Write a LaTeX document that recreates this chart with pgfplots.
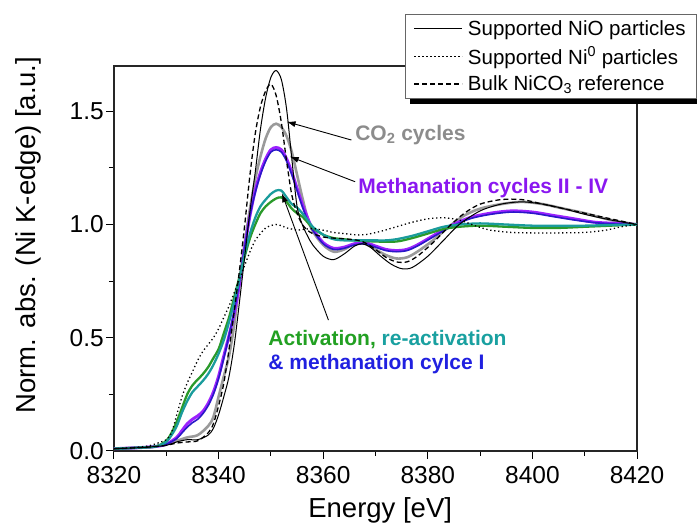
\documentclass[border=0pt]{standalone}
\usepackage{pgfplots}
\pgfplotsset{compat=1.18}
\usepackage{fontspec}
\setmainfont{Liberation Sans}
\usetikzlibrary{arrows.meta}
\definecolor{cgray}{HTML}{9A9A9A}
\definecolor{tgray}{HTML}{8C8C8C}
\definecolor{cpurple}{HTML}{9B22FF}
\definecolor{tpurple}{HTML}{8A17F0}
\definecolor{cblue}{HTML}{2A18C8}
\definecolor{tblue}{HTML}{2020E0}
\definecolor{cteal}{HTML}{1A9C9C}
\definecolor{tteal}{HTML}{19A0A0}
\definecolor{cgreen}{HTML}{2A9A2A}
\definecolor{tgreen}{HTML}{22A022}
\begin{document}
\begin{tikzpicture}
\begin{axis}[
  scale only axis, width=523pt, height=385pt,
  xmin=8320, xmax=8420, ymin=0, ymax=1.70,
  xtick={8320,8340,8360,8380,8400,8420}, ytick={0,0.5,1,1.5},
  minor x tick num=1, minor y tick num=1,
  xtick pos=bottom, ytick pos=left, tick align=outside,
  major tick length=8pt, minor tick length=5pt,
  every tick/.style={black, line width=1pt},
  axis line style={line width=1.3pt, black!85},
  /pgf/number format/assume math mode=true,
  xticklabel style={/pgf/number format/1000 sep={}, yshift=-5pt},
  yticklabel style={/pgf/number format/fixed, /pgf/number format/fixed zerofill, /pgf/number format/precision=1},
  tick label style={font=\fontsize{24.5}{30}\selectfont, inner sep=2pt},
  xlabel={Energy [eV]},
  ylabel={Norm. abs. (Ni K-edge) [a.u.]},
  label style={font=\fontsize{27.5}{33}\selectfont},
  xlabel style={at={(axis description cs:0.509,0)}, anchor=base, yshift=-67pt},
  ylabel style={at={([xshift=-86pt]axis description cs:0,0.561)}, anchor=center},
  legend style={at={(axis description cs:1.1147,1.135)}, anchor=north east, name=leg,
    draw=black!60, line width=0.8pt, fill=white,
    font=\fontsize{20.5}{24}\selectfont, inner xsep=8pt, inner ysep=3pt,
    row sep=4pt, column sep=2pt,
    nodes={inner sep=3pt}},
  legend cell align=left,
  legend image code/.code={\draw[#1] (0pt,0pt) -- (48pt,0pt);},
  every axis plot/.append style={smooth, tension=0.5},
]
% CO2 cycles (gray)
\addplot[cgray, line width=2.6pt, forget plot] coordinates {
(8320,0.01)(8325,0.015)(8328,0.02)(8330,0.03)(8332,0.045)(8334,0.06)(8336,0.07)(8338,0.11)(8339,0.15)(8340,0.24)(8341,0.33)(8342,0.42)(8343,0.56)(8344,0.75)(8345,0.92)(8346,1.07)(8347,1.20)(8348,1.30)(8349,1.38)(8350,1.43)(8351,1.445)(8352,1.43)(8353,1.39)(8354,1.32)(8355,1.22)(8356,1.12)(8357,1.03)(8358,0.97)(8360,0.91)(8362,0.88)(8364,0.89)(8366,0.915)(8368,0.915)(8370,0.89)(8372,0.865)(8374,0.85)(8376,0.855)(8378,0.88)(8381,0.93)(8384,0.99)(8387,1.04)(8390,1.07)(8394,1.09)(8398,1.10)(8402,1.09)(8406,1.07)(8410,1.05)(8415,1.02)(8420,1.0)};
% Methanation II-IV (purple)
\addplot[cpurple, line width=3pt, forget plot] coordinates {
(8320,0.01)(8325,0.015)(8328,0.02)(8330,0.03)(8332,0.06)(8333,0.09)(8334,0.12)(8335,0.14)(8336,0.155)(8337,0.175)(8338,0.21)(8339,0.26)(8340,0.33)(8341,0.42)(8342,0.51)(8343,0.61)(8344,0.74)(8345,0.90)(8346,1.04)(8347,1.15)(8348,1.23)(8349,1.29)(8350,1.33)(8351,1.34)(8352,1.33)(8353,1.29)(8354,1.23)(8355,1.16)(8356,1.09)(8357,1.03)(8358,0.98)(8360,0.92)(8362,0.895)(8364,0.90)(8366,0.915)(8368,0.92)(8370,0.905)(8372,0.89)(8374,0.885)(8376,0.89)(8378,0.91)(8381,0.95)(8384,0.99)(8388,1.03)(8392,1.05)(8396,1.06)(8400,1.055)(8404,1.04)(8408,1.025)(8412,1.01)(8416,1.005)(8420,1.0)};
% blue
\addplot[cblue, line width=1.6pt, forget plot] coordinates {
(8320,0.01)(8325,0.015)(8328,0.02)(8330,0.03)(8332,0.055)(8333,0.08)(8334,0.105)(8335,0.125)(8336,0.14)(8337,0.165)(8338,0.20)(8339,0.25)(8340,0.32)(8341,0.41)(8342,0.51)(8343,0.62)(8344,0.75)(8345,0.90)(8346,1.04)(8347,1.14)(8348,1.22)(8349,1.28)(8350,1.32)(8351,1.33)(8352,1.32)(8353,1.28)(8354,1.22)(8355,1.15)(8356,1.08)(8357,1.02)(8358,0.975)(8360,0.915)(8362,0.89)(8364,0.895)(8366,0.91)(8368,0.915)(8370,0.90)(8372,0.885)(8374,0.88)(8376,0.885)(8378,0.905)(8381,0.945)(8384,0.985)(8388,1.025)(8392,1.045)(8396,1.055)(8400,1.05)(8404,1.035)(8408,1.02)(8412,1.008)(8416,1.003)(8420,1.0)};
% green (activation)
\addplot[cgreen, line width=2.3pt, forget plot] coordinates {
(8320,0.01)(8325,0.015)(8328,0.02)(8330,0.045)(8331,0.08)(8332,0.13)(8333,0.19)(8334,0.25)(8335,0.29)(8336,0.315)(8337,0.34)(8338,0.37)(8339,0.41)(8340,0.45)(8341,0.52)(8342,0.59)(8343,0.68)(8344,0.77)(8345,0.86)(8346,0.94)(8347,1.00)(8348,1.05)(8349,1.08)(8350,1.10)(8351,1.115)(8352,1.12)(8353,1.10)(8354,1.07)(8355,1.05)(8356,1.035)(8357,1.01)(8358,0.985)(8360,0.955)(8362,0.94)(8364,0.935)(8366,0.93)(8370,0.925)(8374,0.925)(8377,0.94)(8380,0.96)(8383,0.98)(8386,0.99)(8390,0.995)(8395,0.99)(8400,0.985)(8405,0.985)(8410,0.99)(8415,0.995)(8420,1.0)};
% teal (re-activation)
\addplot[cteal, line width=2.3pt, forget plot] coordinates {
(8320,0.01)(8325,0.015)(8328,0.02)(8330,0.04)(8331,0.07)(8332,0.11)(8333,0.17)(8334,0.22)(8335,0.26)(8336,0.285)(8337,0.31)(8338,0.34)(8339,0.38)(8340,0.43)(8341,0.49)(8342,0.57)(8343,0.66)(8344,0.76)(8345,0.87)(8346,0.96)(8347,1.03)(8348,1.08)(8349,1.11)(8350,1.135)(8351,1.15)(8352,1.15)(8353,1.12)(8354,1.09)(8355,1.075)(8356,1.05)(8357,1.02)(8358,0.99)(8360,0.955)(8362,0.935)(8364,0.93)(8366,0.93)(8368,0.93)(8370,0.93)(8372,0.93)(8374,0.935)(8377,0.95)(8380,0.97)(8383,0.99)(8386,1.0)(8390,1.005)(8395,1.0)(8400,0.995)(8405,0.995)(8410,0.995)(8415,0.998)(8420,1.0)};
% Supported NiO (thin black)
\addplot[black, line width=1pt] coordinates {
(8320,0.01)(8325,0.015)(8328,0.02)(8330,0.025)(8332,0.04)(8334,0.05)(8336,0.05)(8338,0.07)(8339,0.10)(8340,0.16)(8341,0.24)(8342,0.33)(8343,0.47)(8344,0.66)(8345,0.86)(8346,1.06)(8347,1.23)(8348,1.42)(8349,1.56)(8350,1.65)(8351,1.68)(8352,1.64)(8353,1.51)(8354,1.29)(8355,1.08)(8356,1.00)(8357,0.95)(8358,0.91)(8360,0.86)(8362,0.845)(8364,0.87)(8366,0.905)(8367.5,0.915)(8369,0.90)(8371,0.86)(8373,0.825)(8375,0.805)(8377,0.81)(8380,0.86)(8383,0.93)(8386,1.00)(8390,1.06)(8394,1.09)(8398,1.10)(8402,1.09)(8406,1.07)(8410,1.045)(8415,1.02)(8420,1.0)};
\addlegendentry{Supported NiO particles}
% Supported Ni0 (dotted)
\addplot[black, line width=1.3pt, dash pattern=on 1.3pt off 2.7pt] coordinates {
(8320,0.01)(8326,0.02)(8329,0.04)(8330,0.05)(8331,0.08)(8332,0.16)(8333,0.24)(8334,0.30)(8335,0.35)(8336,0.40)(8337,0.44)(8338,0.47)(8339,0.50)(8340,0.54)(8341,0.59)(8342,0.64)(8343,0.70)(8344,0.76)(8345,0.82)(8346,0.88)(8347,0.93)(8348,0.96)(8349,0.985)(8350,0.995)(8351,1.0)(8352,0.995)(8353,0.985)(8354,0.98)(8355,0.975)(8356,0.978)(8358,0.982)(8360,0.975)(8362,0.965)(8364,0.96)(8366,0.955)(8368,0.955)(8371,0.97)(8374,0.99)(8377,1.01)(8380,1.025)(8383,1.03)(8386,1.02)(8389,0.995)(8392,0.975)(8396,0.965)(8400,0.963)(8405,0.963)(8410,0.965)(8414,0.975)(8417,0.99)(8420,1.0)};
\addlegendentry{Supported Ni\textsuperscript{0} particles}
% Bulk NiCO3 (dashed)
\addplot[black, line width=1.3pt, dash pattern=on 5pt off 3pt] coordinates {
(8320,0.01)(8325,0.015)(8328,0.02)(8330,0.025)(8332,0.035)(8334,0.04)(8336,0.045)(8338,0.08)(8339,0.12)(8340,0.20)(8341,0.30)(8342,0.45)(8343,0.62)(8344,0.80)(8345,1.00)(8346,1.22)(8347,1.40)(8348,1.52)(8349,1.59)(8350,1.62)(8351,1.57)(8352,1.45)(8353,1.28)(8354,1.13)(8355,1.05)(8356,1.00)(8357,0.975)(8358,0.96)(8360,0.945)(8362,0.94)(8365,0.935)(8367.5,0.925)(8370,0.89)(8372,0.855)(8374,0.835)(8376,0.835)(8378,0.86)(8381,0.92)(8384,0.99)(8387,1.05)(8390,1.09)(8394,1.11)(8398,1.11)(8402,1.09)(8406,1.07)(8410,1.05)(8415,1.025)(8420,1.0)};
\addlegendentry{Bulk NiCO\textsubscript{3} reference}
% annotations
\draw[line width=0.9pt, -{Latex[length=9pt,width=6pt]}] (axis cs:8365.4,1.373) -- (axis cs:8353.0,1.454);
\draw[line width=0.9pt, -{Latex[length=9pt,width=6pt]}] (axis cs:8366.1,1.189) -- (axis cs:8353.6,1.30);
\draw[line width=0.9pt, -{Latex[length=9pt,width=6pt]}] (axis cs:8361,0.578) -- (axis cs:8352.1,1.138);
\node[anchor=base west, inner sep=0pt, font=\bfseries\fontsize{21}{25}\selectfont, text=tgray] at (axis cs:8366.1,1.373) {CO\textsubscript{2} cycles};
\node[anchor=base west, inner sep=0pt, font=\bfseries\fontsize{21}{25}\selectfont, text=tpurple] at (axis cs:8366.7,1.138) {Methanation cycles II - IV};
\node[anchor=base west, inner sep=0pt, font=\bfseries\fontsize{21}{25}\selectfont] at (axis cs:8349.5,0.468) {\textcolor{tgreen}{Activation,} \textcolor{tteal}{re-activation}};
\node[anchor=base west, inner sep=0pt, font=\bfseries\fontsize{21}{25}\selectfont, text=tblue] at (axis cs:8349.5,0.361) {\& methanation cylce I};
\end{axis}
\fill[black] ([xshift=5pt]leg.south west) rectangle ([yshift=-5pt]leg.south east);
\pgfresetboundingbox
\path[use as bounding box] ([shift={(-114pt,-80pt)}]current axis.south west) rectangle ([shift={(61pt,66pt)}]current axis.north east);
\end{tikzpicture}
\end{document}
